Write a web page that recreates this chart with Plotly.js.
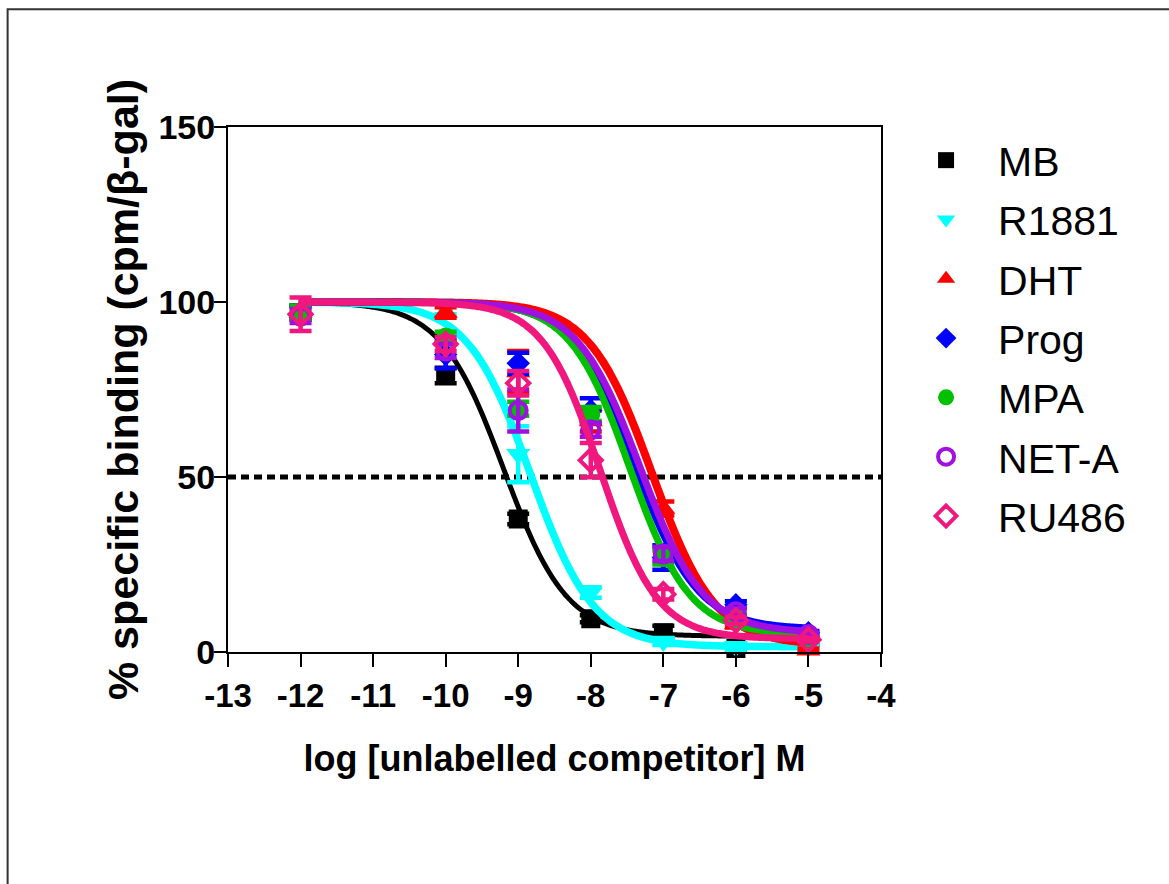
<!DOCTYPE html>
<html>
<head>
<meta charset="utf-8">
<script src="https://cdn.plot.ly/plotly-3.0.1.min.js"></script>
<style>html,body{margin:0;padding:0;background:#fff;}#chart{width:1169px;height:884px;}</style>
</head>
<body>
<div id="chart"></div>
<script>
// ---- data ----
const logDose = [-12, -10, -9, -8, -7, -6, -5];
const seriesNames = ['MB', 'R1881', 'DHT', 'Prog', 'MPA', 'NET-A', 'RU486'];

const mbY      = [97, 79, 38, 9.5, 5.5, 1, 3];
const mbErr    = [1.5, 2.2, 1.5, 1, 2, 0.5, 1];
const r1881Y   = [97, 98, 56.5, 17, 3, 1.5, 1.5];
const r1881Err = [2, 1.5, 8, 1.5, 1, 1, 0.5];
const dhtY     = [97, 97, 80, 66, 41, 8, 0.5];
const dhtErr   = [2, 1.5, 6, 3, 2, 1, 0.5];
const progY    = [97, 85, 82.5, 69, 27, 13.5, 5.5];
const progErr  = [2, 4, 3, 3.5, 3.5, 1, 0.5];
const mpaY     = [97, 90, 69.5, 68, 27, 10, 4];
const mpaErr   = [2, 1.5, 2, 2, 2, 1, 0.5];
const netaY    = [96, 86, 69, 63.5, 28, 11.5, 5];
const netaErr  = [2, 2, 6, 2, 2, 1, 0.5];
const ru486Y   = [96.5, 88, 76.8, 54.8, 16.5, 9, 3.5];
const ru486Err = [4.8, 2, 3.5, 4.9, 1.5, 1, 0.5];

// one-site competition fit parameters
const fitTop     = [100, 100, 100, 100, 100, 100, 100];
const fitBottom  = [4.5, 1.5, 2, 6.5, 5, 5.5, 3.8];
const fitLogIC50 = [-9.2, -8.83, -7.155, -7.39, -7.46, -7.32, -7.87];
const fitHill    = [1, 1, 1, 1, 1.05, 1, 1.1];
const fitRange   = [-12, -5];

const xTicks = [-13, -12, -11, -10, -9, -8, -7, -6, -5, -4];
const yTicks = [0, 50, 100, 150];
const halfLevel = 50;

// ---- styles ----
const colors  = ['#000000', '#00FFFF', '#FF0000', '#0000FF', '#00C000', '#A010E0', '#F0187F'];
const symbols = ['square', 'triangle-down', 'triangle-up', 'diamond', 'circle', 'circle-open', 'diamond-open'];
const sizes   = [19, 21, 21, 18, 19, 17, 17];
const curveW  = [5, 7.5, 8, 7, 7, 7, 7];

const ys   = [mbY, r1881Y, dhtY, progY, mpaY, netaY, ru486Y];
const errs = [mbErr, r1881Err, dhtErr, progErr, mpaErr, netaErr, ru486Err];

function fitCurve(i) {
  const xs = [], yv = [];
  const n = 200;
  for (let k = 0; k <= n; k++) {
    const x = fitRange[0] + (fitRange[1] - fitRange[0]) * k / n;
    xs.push(x);
    yv.push(fitBottom[i] + (fitTop[i] - fitBottom[i]) / (1 + Math.pow(10, (x - fitLogIC50[i]) * fitHill[i])));
  }
  return {xs, yv};
}

const traces = [];
// 50% reference line
traces.push({
  x: [xTicks[0], xTicks[xTicks.length - 1]], y: [halfLevel, halfLevel],
  mode: 'lines', line: {color: '#000', width: 5, dash: '8px,5px'},
  showlegend: false, hoverinfo: 'skip', cliponaxis: false
});
for (let i = 0; i < seriesNames.length; i++) {
  const c = fitCurve(i);
  traces.push({
    x: c.xs, y: c.yv, mode: 'lines',
    line: {color: colors[i], width: curveW[i], shape: 'spline'},
    showlegend: false, hoverinfo: 'skip', legendgroup: 'g' + i, cliponaxis: false
  });
  const open = symbols[i].indexOf('open') >= 0;
  traces.push({
    x: logDose, y: ys[i], name: seriesNames[i], mode: 'markers',
    legendgroup: 'g' + i, cliponaxis: false,
    marker: {symbol: symbols[i], size: sizes[i], color: colors[i],
             line: {color: colors[i], width: open ? 4 : 0}},
    error_y: {type: 'data', array: errs[i], visible: true, color: colors[i], thickness: 4.5, width: 11}
  });
}

const axisFont = {family: 'Liberation Sans, Arial, sans-serif', size: 33, color: '#000', weight: 'bold'};

const layout = {
  width: 1169, height: 884,
  margin: {l: 228, r: 288, t: 127, b: 232},
  paper_bgcolor: '#fff', plot_bgcolor: '#fff',
  showlegend: true,
  xaxis: {
    range: [xTicks[0], xTicks[xTicks.length - 1]],
    tickvals: xTicks, ticktext: xTicks.map(String),
    showgrid: false, zeroline: false,
    showline: true, linecolor: '#000', linewidth: 2, mirror: true,
    ticks: 'outside', ticklen: 13, tickwidth: 2, tickcolor: '#000',
    tickfont: Object.assign({}, axisFont, {size: 33}),
    title: {text: 'log [unlabelled competitor] M', font: Object.assign({}, axisFont, {size: 36}), standoff: 33}
  },
  yaxis: {
    range: [yTicks[0], yTicks[yTicks.length - 1]],
    tickvals: yTicks, ticktext: yTicks.map(String),
    showgrid: false, zeroline: false,
    showline: true, linecolor: '#000', linewidth: 2, mirror: true,
    ticks: 'outside', ticklen: 12, tickwidth: 2, tickcolor: '#000',
    ticklabelstandoff: -8,
    tickfont: Object.assign({}, axisFont, {size: 34}),
    title: {text: '% specific binding (cpm/β-gal)', font: Object.assign({}, axisFont, {size: 43}), standoff: 6}
  },
  legend: {
    x: 1.02, xanchor: 'left', y: 1.0, yanchor: 'top',
    bgcolor: 'rgba(0,0,0,0)', borderwidth: 0,
    font: {family: 'Liberation Sans, Arial, sans-serif', size: 41, color: '#000'},
    tracegroupgap: 3, itemwidth: 94, itemclick: false
  },
  shapes: [{
    type: 'rect', xref: 'paper', yref: 'paper',
    x0: -0.3375, x1: 1.46, y0: -0.46, y1: 1.2242,
    line: {color: '#333', width: 2}, layer: 'below'
  }]
};

Plotly.newPlot('chart', traces, layout, {displayModeBar: false, staticPlot: true});
</script>
</body>
</html>
